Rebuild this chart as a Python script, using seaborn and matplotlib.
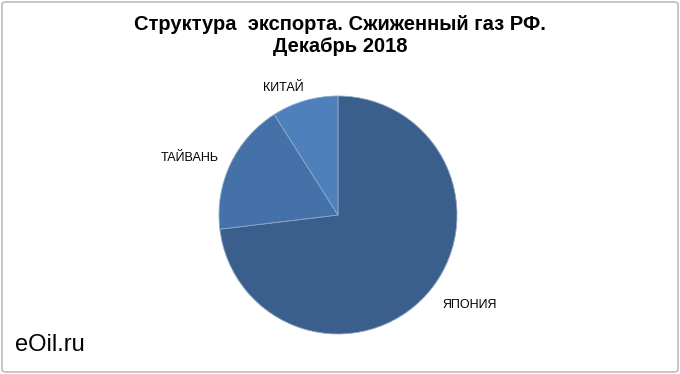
import matplotlib
matplotlib.use("Agg")
import matplotlib.pyplot as plt
import seaborn as sns
from matplotlib.patches import FancyBboxPatch

# Data (share of LNG exports, %)
countries = ["ЯПОНИЯ", "ТАЙВАНЬ", "КИТАЙ"]
shares = [73.1, 17.9, 9.0]
colors = ["#3B5F8D", "#4471A8", "#4E80BC"]

TITLE = "Структура  экспорта. Сжиженный газ РФ.\nДекабрь 2018"

sns.set_theme(style="white")
plt.rcParams['font.family'] = ['Liberation Sans', 'DejaVu Sans']
plt.rcParams['text.color'] = 'black'

fig = plt.figure(figsize=(6.8, 3.74), dpi=100)
# pie centre at (338, 215) px, radius 119 px
ax = fig.add_axes([(338 - 150) / 680, (374 - 215 - 150) / 374, 300 / 680, 300 / 374])
wedges, texts = ax.pie(
    shares, labels=countries, colors=sns.color_palette(colors),
    startangle=90, counterclock=False, radius=1,
    wedgeprops={'edgecolor': '#8FA8C8', 'linewidth': 0.6},
    textprops={'fontsize': 9, 'color': 'black'},
)
lim = 150 / 119
ax.set_xlim(-lim, lim)
ax.set_ylim(-lim, lim)
ax.set_aspect('equal')
ax.axis('off')

# label positions like the original (pie units)
label_pos = {"ЯПОНИЯ": (1.105, -0.76), "ТАЙВАНЬ": (-1.245, 0.48), "КИТАЙ": (-0.46, 1.065)}
for t in texts:
    t.set_position(label_pos[t.get_text()])
    t.set_ha('center')
    t.set_va('center')

fig.text(0.5, 1 - 35.5 / 374, TITLE, ha='center', va='center', fontsize=14.5,
         fontweight='bold', linespacing=1.15, color='black')
fig.text(15 / 680, 1 - 345 / 374, "eOil.ru", ha='left', va='center', fontsize=17,
         color='black')

border = FancyBboxPatch((2 / 680, 2 / 374), 676 / 680, 370 / 374,
                        boxstyle="round,pad=0,rounding_size=0.006",
                        transform=fig.transFigure, facecolor='none',
                        edgecolor='#BDBDBD', linewidth=1.2)
fig.patches.append(border)

fig.savefig("out.png", dpi=100)
